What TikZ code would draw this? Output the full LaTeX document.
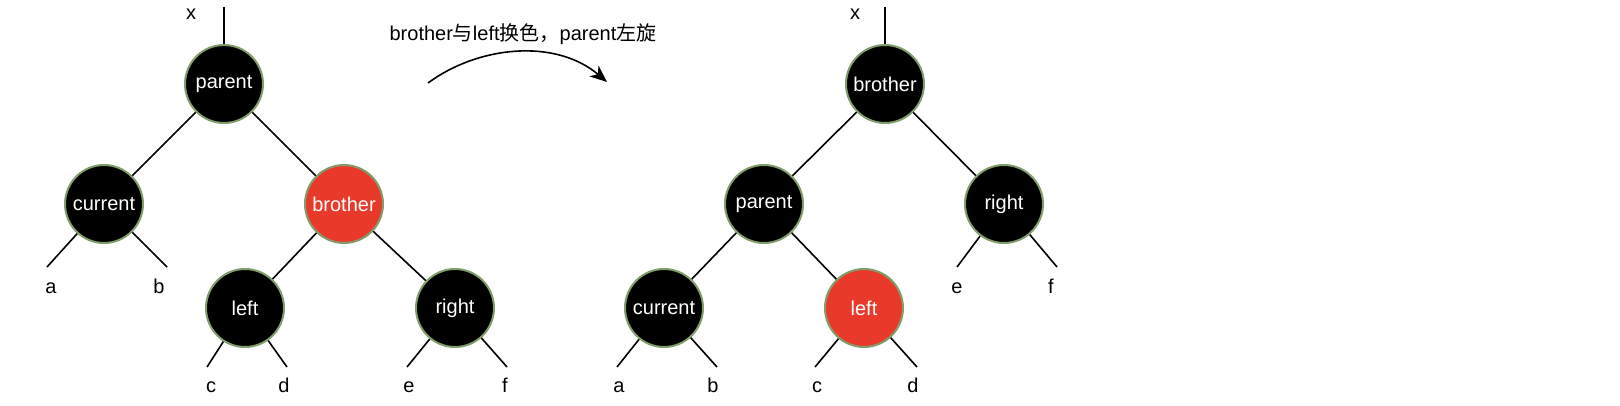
\documentclass[tikz,border=0pt]{standalone}
\usepackage{fontspec}
\setmainfont{Liberation Sans}
\newfontfamily\cjk{Noto Sans CJK SC}
\usetikzlibrary{arrows.meta}
\definecolor{rbred}{RGB}{232,57,42}
\definecolor{rbrim}{RGB}{130,158,108}
\tikzset{
  blk/.style={circle, fill=black, draw=rbrim, line width=2pt, minimum size=78pt, inner sep=0pt, text=white, font=\fontsize{20}{23}\selectfont},
  rd/.style={blk, fill=rbred},
  lbl/.style={anchor=base, inner sep=0pt, font=\fontsize{20}{23}\selectfont},
  edge/.style={line width=1.6pt, black},
}
\begin{document}
\begin{tikzpicture}[x=1pt,y=-1pt]
\useasboundingbox (0,0) rectangle (1620,406);
% ---------- left tree ----------
\node[blk] (P) at (224,84) {parent};
\node[blk] (Cu) at (104,204) {current};
\node[rd] (B) at (344,204) {brother};
\node[blk] (L) at (245,308) {left};
\node[blk] (R) at (455,308) {right};
\node[lbl] (x1) at (191,20) {x};
\coordinate (x1t) at (224,7);
\coordinate (ae) at (47,267);
\coordinate (be) at (167,267);
\coordinate (ce) at (207,367);
\coordinate (de) at (287,367);
\coordinate (ee) at (407,367);
\coordinate (fe) at (507,367);
\node[lbl] (a1) at (51,293) {a};
\node[lbl] (b1) at (159,293) {b};
\node[lbl] (c1) at (211,392) {c};
\node[lbl] (d1) at (284,392) {d};
\node[lbl] (e1) at (409,392) {e};
\node[lbl] (f1) at (505,392) {f};
\draw[edge] (x1t) -- (P);
\draw[edge] (P) -- (Cu);
\draw[edge] (P) -- (B);
\draw[edge] (B) -- (L);
\draw[edge] (B) -- (R);
\draw[edge] (Cu) -- (ae);
\draw[edge] (Cu) -- (be);
\draw[edge] (L) -- (ce);
\draw[edge] (L) -- (de);
\draw[edge] (R) -- (ee);
\draw[edge] (R) -- (fe);
% ---------- arrow ----------
\node[lbl, anchor=center] (cap) at (523,34) {brother{\cjk 与}left{\cjk 换色，}parent{\cjk 左旋}};
\coordinate (as) at (428,83);
\coordinate (at) at (607,82);
\draw[line width=1.6pt, -{Stealth[length=17pt,width=14pt,inset=5pt]}] (as) .. controls (478,46) and (555,38) .. (at);
% ---------- right tree ----------
\node[blk] (Bo) at (885,84) {brother};
\node[blk] (Pa) at (764,204) {parent};
\node[blk] (Ri) at (1004,204) {right};
\node[blk] (Cu2) at (664,308) {current};
\node[rd] (Le2) at (864,308) {left};
\node[lbl] (x2) at (855,20) {x};
\coordinate (x2t) at (885,7);
\coordinate (ae2) at (617,367);
\coordinate (be2) at (717,367);
\coordinate (ce2) at (815,367);
\coordinate (de2) at (917,367);
\coordinate (ee2) at (957,267);
\coordinate (fe2) at (1057,267);
\node[lbl] (a2) at (619,392) {a};
\node[lbl] (b2) at (713,392) {b};
\node[lbl] (c2) at (817,392) {c};
\node[lbl] (d2) at (913,392) {d};
\node[lbl] (e2) at (957,293) {e};
\node[lbl] (f2) at (1051,293) {f};
\draw[edge] (x2t) -- (Bo);
\draw[edge] (Bo) -- (Pa);
\draw[edge] (Bo) -- (Ri);
\draw[edge] (Pa) -- (Cu2);
\draw[edge] (Pa) -- (Le2);
\draw[edge] (Cu2) -- (ae2);
\draw[edge] (Cu2) -- (be2);
\draw[edge] (Le2) -- (ce2);
\draw[edge] (Le2) -- (de2);
\draw[edge] (Ri) -- (ee2);
\draw[edge] (Ri) -- (fe2);
\end{tikzpicture}
\end{document}
